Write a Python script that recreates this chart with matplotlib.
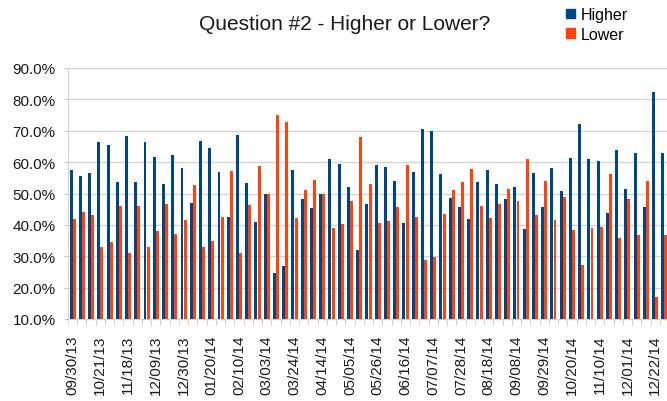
import numpy as np
import matplotlib
matplotlib.use("Agg")
from matplotlib import pyplot as plt
from matplotlib.patches import Patch

plt.rcParams['font.family'] = ['Liberation Sans', 'DejaVu Sans']

#%% data
weeks = ["09/30/13", "10/07/13", "10/14/13", "10/21/13", "10/28/13", "11/04/13",
         "11/18/13", "11/25/13", "12/02/13", "12/09/13", "12/16/13", "12/23/13",
         "12/30/13", "01/06/14", "01/13/14", "01/20/14", "01/27/14", "02/03/14",
         "02/10/14", "02/17/14", "02/24/14", "03/03/14", "03/10/14", "03/17/14",
         "03/24/14", "03/31/14", "04/07/14", "04/14/14", "04/21/14", "04/28/14",
         "05/05/14", "05/12/14", "05/19/14", "05/26/14", "06/02/14", "06/09/14",
         "06/16/14", "06/23/14", "06/30/14", "07/07/14", "07/14/14", "07/21/14",
         "07/28/14", "08/04/14", "08/11/14", "08/18/14", "08/25/14", "09/01/14",
         "09/08/14", "09/15/14", "09/22/14", "09/29/14", "10/06/14", "10/13/14",
         "10/20/14", "10/27/14", "11/03/14", "11/10/14", "11/17/14", "11/24/14",
         "12/01/14", "12/08/14", "12/15/14", "12/22/14", "12/29/14"]

higher = [57.6, 55.5, 56.4, 66.5, 65.3, 53.7, 68.2, 53.7, 66.5, 61.5,
          53.1, 62.4, 58.1, 46.9, 66.6, 64.6, 57.0, 42.6, 68.8, 53.5,
          40.9, 49.9, 24.7, 27.0, 57.6, 48.4, 45.3, 49.9, 60.9, 59.4,
          52.0, 31.9, 46.7, 59.0, 58.4, 54.0, 40.7, 57.0, 70.7, 69.8,
          56.2, 48.6, 45.8, 41.9, 53.7, 57.5, 53.1, 48.3, 52.2, 38.6,
          56.5, 45.6, 58.0, 50.7, 61.3, 72.3, 60.9, 60.5, 43.7, 63.8,
          51.3, 62.8, 45.8, 82.5, 62.8]

lower = [42.0, 44.2, 43.2, 33.1, 34.4, 45.9, 31.1, 45.9, 33.1, 38.2,
         46.6, 37.2, 41.5, 52.8, 33.0, 35.0, 42.6, 57.1, 30.9, 46.2,
         58.8, 49.9, 74.9, 72.7, 42.1, 51.2, 54.4, 49.9, 38.9, 40.2,
         47.7, 67.9, 53.0, 40.7, 41.2, 45.6, 59.0, 42.6, 28.9, 29.9,
         43.5, 51.0, 53.8, 57.8, 45.9, 42.1, 46.6, 51.3, 47.5, 61.0,
         43.2, 53.9, 41.7, 49.0, 38.4, 27.3, 38.9, 39.2, 56.1, 35.8,
         48.4, 36.8, 53.9, 17.1, 36.9]

label_every = 3
y_ticks = [10, 20, 30, 40, 50, 60, 70, 80, 90]

#%% plot
blue = '#004586'
orange = '#ff420e'
txt = '#1a1a1a'

fig = plt.figure(figsize=(6.67, 4.02), dpi=100)
ax = fig.add_axes([68/667, 82/402, 601/667, 251/402])

x = np.arange(len(weeks))
ax.bar(x - 0.17, higher, width=0.32, color=blue, zorder=3)
ax.bar(x + 0.17, lower, width=0.32, color=orange, zorder=3)

ax.set_xlim(-0.5, len(weeks) - 0.5)
ax.set_ylim(10, 90)

# y axis
ax.set_yticks(y_ticks)
ax.set_yticklabels([f"{v:.1f}%" for v in y_ticks], fontsize=11, color=txt)
ax.tick_params(axis='y', length=3, color='#c8c8c8', pad=6)
ax.grid(axis='y', color='#d4d4d4', linewidth=1, zorder=0)

# x axis
ax.set_xticks(x[::label_every])
ax.set_xticklabels(weeks[::label_every], rotation=90, fontsize=11, color=txt)
ax.tick_params(axis='x', which='major', length=0, pad=11)
ax.set_xticks(np.arange(-0.5, len(weeks), 1), minor=True)
ax.tick_params(axis='x', which='minor', length=4, color='#c8c8c8')

for s in ['top', 'right']:
    ax.spines[s].set_visible(False)
for s in ['left', 'bottom']:
    ax.spines[s].set_color('#d4d4d4')

fig.text(345/667, 1 - 25/402, "Question #2 - Higher or Lower?", fontsize=15,
         color=txt, ha='center', va='center')

handles = [Patch(color=blue, label='Higher'), Patch(color=orange, label='Lower')]
fig.legend(handles=handles, loc='upper left', bbox_to_anchor=(566/667, 1 - 8/402),
           frameon=False, fontsize=11.5, handlelength=0.55, handleheight=0.55,
           handletextpad=0.4, labelspacing=0.3, borderpad=0, borderaxespad=0)

fig.savefig('out.png', dpi=100)
